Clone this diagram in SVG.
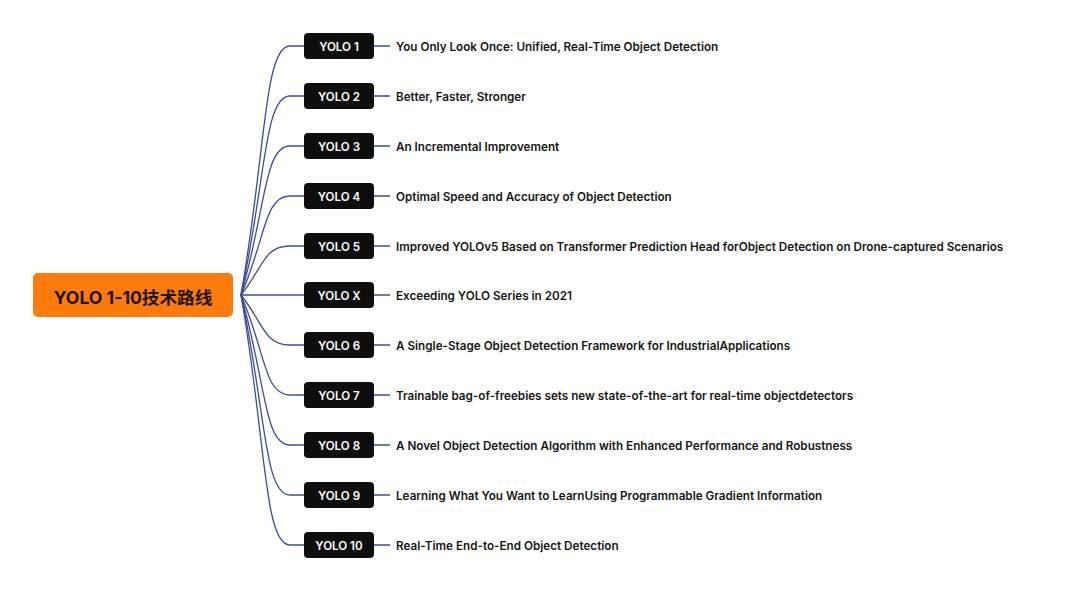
<svg xmlns="http://www.w3.org/2000/svg" width="1080" height="591" viewBox="0 0 1080 591">
<style>
.bg{fill:#ffffff}
.root{fill:#fd7a0c}
.roott{font-family:"Inter","Noto Sans CJK SC",sans-serif;font-weight:700;font-size:17.6px;fill:#1c1410}
.box{fill:#0e0e0e}
.bt{font-family:"Inter",sans-serif;font-weight:600;font-size:11.6px;fill:#ffffff;text-anchor:middle}
.lt{font-family:"Inter",sans-serif;font-weight:600;font-size:11.7px;fill:#161616}
.c{fill:none;stroke:#3e4c9c;stroke-width:1.3}
</style>
<rect class="bg" x="0" y="0" width="1080" height="591"/>
<g id="connectors">
<path class="c" d="M241,295 C266,151 264,46 290,46 L304,46"/>
<path class="c" d="M241,295 C266,180 264,96 290,96 L304,96"/>
<path class="c" d="M241,295 C266,209 264,146 290,146 L304,146"/>
<path class="c" d="M241,295 C266,238 264,196 290,196 L304,196"/>
<path class="c" d="M241,295 C264,266 264,246 290,246 L304,246"/>
<path class="c" d="M241,295 L304,295"/>
<path class="c" d="M241,295 C264,324 264,345 290,345 L304,345"/>
<path class="c" d="M241,295 C266,353 264,395 290,395 L304,395"/>
<path class="c" d="M241,295 C266,382 264,445 290,445 L304,445"/>
<path class="c" d="M241,295 C266,411 264,495 290,495 L304,495"/>
<path class="c" d="M241,295 C266,440 264,545 290,545 L304,545"/>
<path class="c" d="M374,46 H390 M374,96 H390 M374,146 H390 M374,196 H390 M374,246 H390 M374,295 H390 M374,345 H390 M374,395 H390 M374,445 H390 M374,495 H390 M374,545 H390"/>
</g>
<g id="root">
<rect class="root" x="33" y="273" width="200" height="44" rx="5"/>
<text class="roott" x="133" y="303.5" text-anchor="middle">YOLO 1-10技术路线</text>
</g>
<g id="yolo1"><rect class="box" x="304" y="33" width="70" height="26" rx="4"/><text class="bt" x="339" y="50.5">YOLO 1</text><text class="lt" x="396" y="50.5">You Only Look Once: Unified, Real-Time Object Detection</text></g>
<g id="yolo2"><rect class="box" x="304" y="83" width="70" height="26" rx="4"/><text class="bt" x="339" y="100.5">YOLO 2</text><text class="lt" x="396" y="100.5">Better, Faster, Stronger</text></g>
<g id="yolo3"><rect class="box" x="304" y="133" width="70" height="26" rx="4"/><text class="bt" x="339" y="150.5">YOLO 3</text><text class="lt" x="396" y="150.5">An Incremental Improvement</text></g>
<g id="yolo4"><rect class="box" x="304" y="183" width="70" height="26" rx="4"/><text class="bt" x="339" y="200.5">YOLO 4</text><text class="lt" x="396" y="200.5">Optimal Speed and Accuracy of Object Detection</text></g>
<g id="yolo5"><rect class="box" x="304" y="233" width="70" height="26" rx="4"/><text class="bt" x="339" y="250.5">YOLO 5</text><text class="lt" x="396" y="250.5">Improved YOLOv5 Based on Transformer Prediction Head forObject Detection on Drone-captured Scenarios</text></g>
<g id="yolox"><rect class="box" x="304" y="282" width="70" height="26" rx="4"/><text class="bt" x="339" y="299.5">YOLO X</text><text class="lt" x="396" y="299.5">Exceeding YOLO Series in 2021</text></g>
<g id="yolo6"><rect class="box" x="304" y="332" width="70" height="26" rx="4"/><text class="bt" x="339" y="349.5">YOLO 6</text><text class="lt" x="396" y="349.5">A Single-Stage Object Detection Framework for IndustrialApplications</text></g>
<g id="yolo7"><rect class="box" x="304" y="382" width="70" height="26" rx="4"/><text class="bt" x="339" y="399.5">YOLO 7</text><text class="lt" x="396" y="399.5">Trainable bag-of-freebies sets new state-of-the-art for real-time objectdetectors</text></g>
<g id="yolo8"><rect class="box" x="304" y="432" width="70" height="26" rx="4"/><text class="bt" x="339" y="449.5">YOLO 8</text><text class="lt" x="396" y="449.5">A Novel Object Detection Algorithm with Enhanced Performance and Robustness</text></g>
<g id="yolo9"><rect class="box" x="304" y="482" width="70" height="26" rx="4"/><text class="bt" x="339" y="499.5">YOLO 9</text><text class="lt" x="396" y="499.5">Learning What You Want to LearnUsing Programmable Gradient Information</text></g>
<g id="yolo10"><rect class="box" x="304" y="532" width="70" height="26" rx="4"/><text class="bt" x="339" y="549.5">YOLO 10</text><text class="lt" x="396" y="549.5">Real-Time End-to-End Object Detection</text></g>
</svg>
